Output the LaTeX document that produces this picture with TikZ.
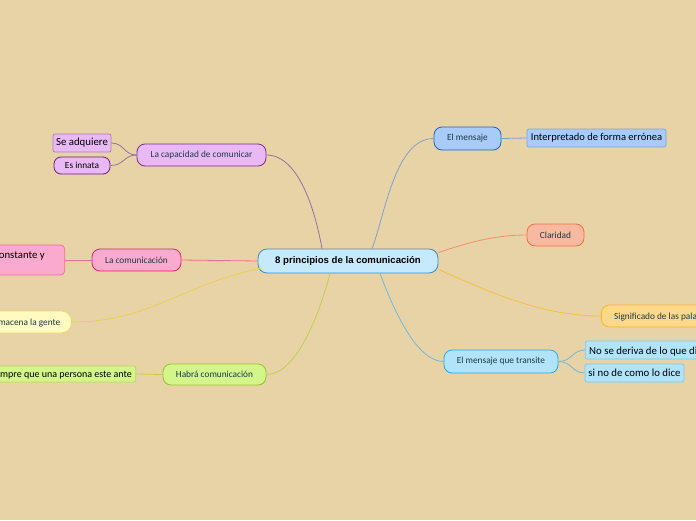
\documentclass[tikz,border=0pt]{standalone}
\usepackage{fontspec}
\setmainfont{Carlito}
\newfontfamily\centerfont{Liberation Sans}
\usetikzlibrary{calc}
\definecolor{bg}{HTML}{E8D3A7}
\definecolor{brtext}{HTML}{1B3A44}
\definecolor{cfill}{HTML}{C6E9FB}\definecolor{cdraw}{HTML}{3A8CC6}
\definecolor{pufill}{HTML}{E9B9F5}\definecolor{pudraw}{HTML}{7A2E8A}\definecolor{pusub}{HTML}{B07ABD}\definecolor{pudark}{HTML}{6A1E7A}\definecolor{puline}{HTML}{9B6FA0}
\definecolor{pkfill}{HTML}{FBAACF}\definecolor{pkdraw}{HTML}{E2206B}\definecolor{pksub}{HTML}{F06A9F}\definecolor{pkline}{HTML}{F06A8F}
\definecolor{yefill}{HTML}{FFFBC0}\definecolor{yedraw}{HTML}{E8D860}\definecolor{yeline}{HTML}{E8D050}
\definecolor{grfill}{HTML}{D3F589}\definecolor{grdraw}{HTML}{95C22D}\definecolor{grsub}{HTML}{B5DA60}\definecolor{grline}{HTML}{BCD050}
\definecolor{blfill}{HTML}{A8CBFA}\definecolor{bldraw}{HTML}{1F62C8}\definecolor{blsub}{HTML}{7FA6D8}\definecolor{blline}{HTML}{7FA2C8}
\definecolor{orfill}{HTML}{F8B9A0}\definecolor{ordraw}{HTML}{F07040}\definecolor{orline}{HTML}{F09070}
\definecolor{gofill}{HTML}{FFD98A}\definecolor{godraw}{HTML}{F5B82A}\definecolor{goline}{HTML}{F5C040}
\definecolor{lbfill}{HTML}{B1E4FA}\definecolor{lbdraw}{HTML}{2AA8E0}\definecolor{lbsub}{HTML}{80C8E8}\definecolor{lbline}{HTML}{6FBAD8}
\tikzset{
  x=1pt,y=-1pt,
  base/.style={draw, line width=0.8pt, inner sep=0pt, font=\fontsize{9.3}{10}\selectfont, text=brtext},
  pill/.style={base, rounded corners=8pt},
  subbox/.style={draw, line width=0.7pt, inner sep=0pt, rounded corners=2pt, font=\fontsize{10.5}{12}\selectfont, text=black},
  conn/.style={line width=0.8pt},
}
\begin{document}
\begin{tikzpicture}
\fill[bg] (0,0) rectangle (696,520);
\useasboundingbox (0,0) rectangle (696,520);

% center
\node[pill, rounded corners=9pt, fill=cfill, draw=cdraw, minimum width=180, minimum height=24,
  font=\centerfont\bfseries\fontsize{9.6}{10}\selectfont, text=black] (c) at (348,261) {8 principios de la comunicación};

% purple branch
\node[pill, fill=pufill, draw=pudraw, minimum width=129, minimum height=22] (cap) at (201.5,155) {La capacidad de comunicar};
\node[subbox, fill=pufill, draw=pusub, minimum width=58, minimum height=18, font=\fontsize{10.8}{12}\selectfont] (sea) at (82,143) {Se adquiere};
\node[pill, rounded corners=7pt, fill=pufill, draw=pudark, minimum width=56, minimum height=17, text=black] (esi) at (82,165.5) {Es innata};

% pink branch
\node[pill, fill=pkfill, draw=pkdraw, minimum width=89, minimum height=22] (com) at (136.5,260) {La comunicación};
\node[subbox, rounded corners=4pt, fill=pkfill, draw=pksub, minimum width=95, minimum height=30, anchor=east] (pink) at (65,260) {};
\node[anchor=base west, inner sep=0pt, font=\fontsize{10.8}{12}\selectfont] (pinkt) at (-5.8,258.5) {constante y};

% yellow branch
\node[pill, rounded corners=10pt, fill=yefill, draw=yedraw, minimum width=110, minimum height=22, anchor=east] (yel) at (72,322) {};
\node[anchor=base west, inner sep=0pt, font=\fontsize{9.3}{10}\selectfont, text=brtext] (yelt) at (-8.5,325) {almacena la gente};

% green branch
\node[pill, fill=grfill, draw=grdraw, minimum width=103, minimum height=21] (hab) at (214.5,374.5) {Habrá comunicación};
\node[subbox, fill=grfill, draw=grsub, minimum width=180, minimum height=16, anchor=east] (grn) at (136,374) {};
\node[anchor=base east, inner sep=0pt, font=\fontsize{10}{12}\selectfont] (grnt) at (132,377.5) {siempre que una persona este ante};

% El mensaje
\node[pill, fill=blfill, draw=bldraw, minimum width=67, minimum height=23] (men) at (467.5,138.5) {El mensaje};
\node[subbox, fill=blfill, draw=blsub, minimum width=139, minimum height=18] (int) at (596.5,138) {Interpretado de forma errónea};

% Claridad
\node[pill, fill=orfill, draw=ordraw, minimum width=57, minimum height=22] (cla) at (555.5,235) {Claridad};

% Significado
\node[pill, fill=gofill, draw=godraw, minimum width=130, minimum height=22, anchor=west] (sig) at (601,316) {};
\node[anchor=base west, inner sep=0pt, font=\fontsize{9.3}{10}\selectfont, text=brtext] (sigt) at (614,319) {Significado de las palabras};

% El mensaje que transite
\node[pill, fill=lbfill, draw=lbdraw, minimum width=114, minimum height=23] (tra) at (501,361.5) {El mensaje que transite};
\node[subbox, fill=lbfill, draw=lbsub, minimum width=130, minimum height=18, anchor=west] (nos) at (585,350) {};
\node[anchor=base west, inner sep=0pt, font=\fontsize{10.8}{12}\selectfont] (nost) at (589,354) {No se deriva de lo que dice};
\node[subbox, fill=lbfill, draw=lbsub, minimum width=99, minimum height=18, font=\fontsize{10.8}{12}\selectfont] (sin) at (634.5,373) {si no de como lo dice};

% connectors
\draw[conn, draw=puline] (cap.east) .. controls (300,155) and (316,215) .. ([xshift=-26pt]c.north);
\draw[conn, draw=puline] (cap.west) .. controls (124,155) and (124,143) .. (sea.east);
\draw[conn, draw=puline] (cap.west) .. controls (124,155) and (124,165.5) .. (esi.east);
\draw[conn, draw=pkline] (com.east) -- (c.west);
\draw[conn, draw=pkline] (com.west) -- (pink.east);
\draw[conn, draw=yeline] ([xshift=4pt,yshift=-7pt]c.west) .. controls (180,285) and (150,322) .. (yel.east);
\draw[conn, draw=grline] ([xshift=-18pt]c.south) .. controls (315,330) and (292,374.5) .. (hab.east);
\draw[conn, draw=grline] (hab.west) -- (grn.east);
\draw[conn, draw=blline] ([xshift=24pt]c.north) .. controls (385,215) and (395,138.5) .. (men.west);
\draw[conn, draw=blline] (men.east) -- (int.west);
\draw[conn, draw=orline] ([yshift=-4pt]c.north east) .. controls (475,240) and (500,235) .. (cla.west);
\draw[conn, draw=goline] ([yshift=4pt]c.south east) .. controls (485,290) and (540,316) .. (sig.west);
\draw[conn, draw=lbline] ([xshift=32pt]c.south) .. controls (398,322) and (420,361.5) .. (tra.west);
\draw[conn, draw=lbline] (tra.east) .. controls (572,361.5) and (572,350) .. (nos.west);
\draw[conn, draw=lbline] (tra.east) .. controls (572,361.5) and (572,373) .. (sin.west);
\end{tikzpicture}
\end{document}
